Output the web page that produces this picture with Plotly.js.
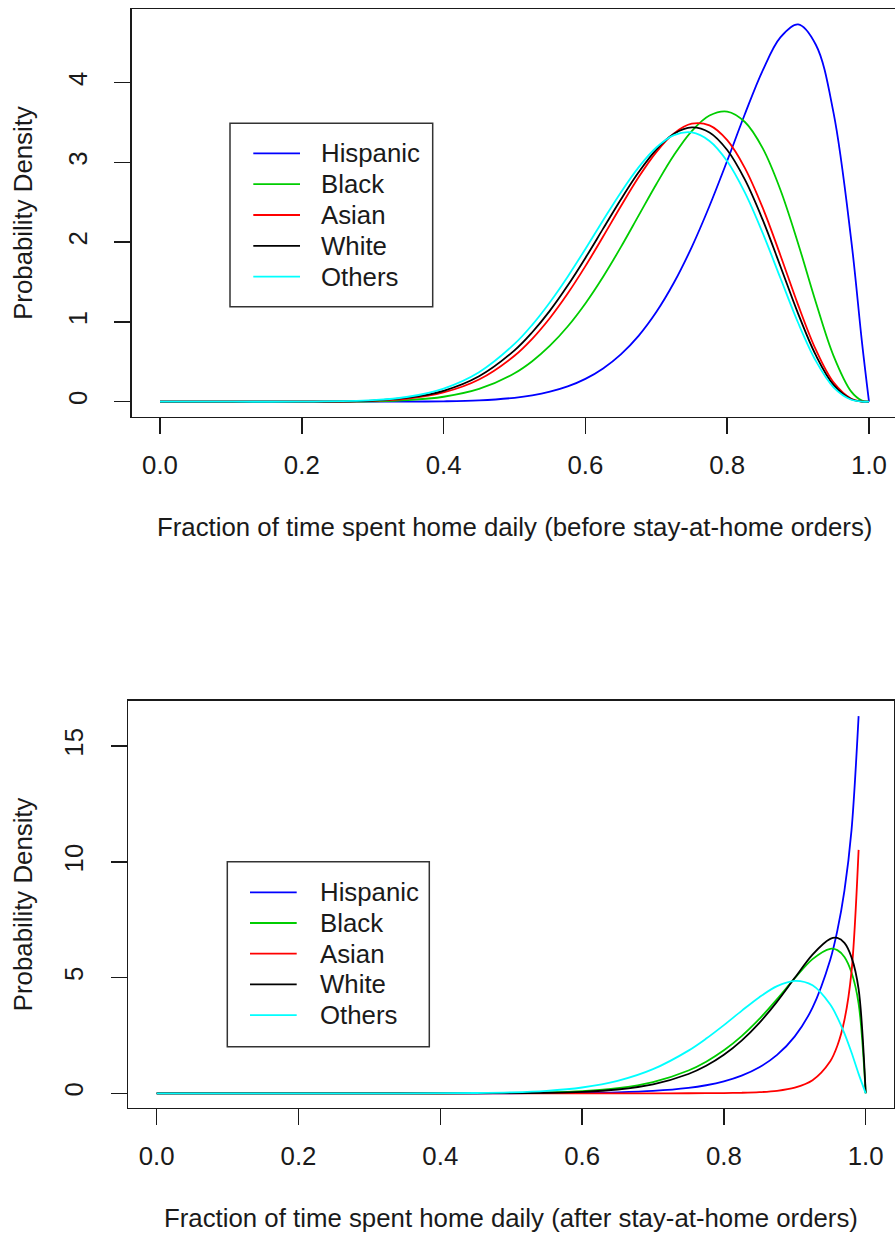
<!DOCTYPE html>
<html>
<head>
<meta charset="utf-8">
<script src="https://cdn.plot.ly/plotly-3.0.1.min.js"></script>
<style>html,body{margin:0;padding:0;background:#fff;}#chart{width:895px;height:1236px;}</style>
</head>
<body>
<div id="chart"></div>
<script>
// ---------- data ----------
const seriesNames = ["Hispanic", "Black", "Asian", "White", "Others"];
const seriesColors = ["#0000FF", "#00CD00", "#FF0000", "#000000", "#00FFFF"];

// before stay-at-home orders
const xBefore = [0, 0.1, 0.2, 0.3, 0.35, 0.4, 0.45, 0.5, 0.525, 0.55, 0.575, 0.6, 0.625, 0.65, 0.675, 0.7, 0.725, 0.75, 0.775, 0.8, 0.825, 0.85, 0.875, 0.9, 0.925, 0.95, 0.975, 0.99, 1.0];
const hispanicBefore = [0, 0, 0, 0.0002, 0.0012, 0.005, 0.017, 0.049, 0.079, 0.125, 0.191, 0.286, 0.417, 0.594, 0.826, 1.124, 1.494, 1.939, 2.454, 3.021, 3.607, 4.152, 4.569, 4.731, 4.476, 3.621, 2.021, 0.754, 0];
const blackBefore    = [0, 0, 0.0001, 0.0053, 0.020, 0.062, 0.160, 0.357, 0.508, 0.702, 0.943, 1.232, 1.567, 1.938, 2.333, 2.727, 3.093, 3.393, 3.588, 3.638, 3.507, 3.179, 2.658, 1.985, 1.247, 0.575, 0.126, 0.014, 0];
const asianBefore    = [0, 0, 0.0003, 0.0114, 0.040, 0.116, 0.278, 0.576, 0.789, 1.050, 1.356, 1.700, 2.071, 2.451, 2.814, 3.130, 3.365, 3.486, 3.464, 3.279, 2.929, 2.433, 1.837, 1.214, 0.652, 0.242, 0.037, 0.0025, 0];
const whiteBefore    = [0, 0, 0.0005, 0.0146, 0.050, 0.137, 0.319, 0.644, 0.871, 1.142, 1.456, 1.803, 2.170, 2.536, 2.877, 3.162, 3.359, 3.439, 3.376, 3.156, 2.784, 2.282, 1.699, 1.105, 0.583, 0.211, 0.031, 0.002, 0];
const othersBefore   = [0, 0, 0.0007, 0.0189, 0.062, 0.165, 0.370, 0.724, 0.964, 1.248, 1.568, 1.916, 2.275, 2.624, 2.938, 3.187, 3.342, 3.376, 3.270, 3.016, 2.622, 2.117, 1.551, 0.990, 0.512, 0.181, 0.025, 0.0016, 0];

// after stay-at-home orders
const xAfter = [0, 0.1, 0.2, 0.3, 0.4, 0.45, 0.5, 0.55, 0.6, 0.65, 0.7, 0.75, 0.775, 0.8, 0.825, 0.85, 0.875, 0.9, 0.925, 0.95, 0.96, 0.97, 0.98, 0.99, 1.0];
const hispanicAfter = [0, 0, 0, 0, 0.0002, 0.0006, 0.002, 0.006, 0.016, 0.042, 0.101, 0.232, 0.348, 0.516, 0.763, 1.125, 1.659, 2.460, 3.704, 5.772, 7.03, 8.761, 11.374, 16.3, null];
const blackAfter    = [0, 0, 0, 0.00003, 0.0009, 0.0036, 0.012, 0.035, 0.092, 0.219, 0.483, 0.984, 1.365, 1.856, 2.471, 3.213, 4.067, 4.973, 5.799, 6.245, 6.187, 5.889, 5.217, 3.88, 0];
const asianAfter    = [0, 0, 0, 0, 0, 0, 0, 0, 0, 0, 0.0003, 0.0018, 0.0042, 0.0096, 0.022, 0.049, 0.109, 0.246, 0.567, 1.386, 2.055, 3.168, 5.261, 10.52, null];
const whiteAfter    = [0, 0, 0, 0, 0.0005, 0.002, 0.0072, 0.0228, 0.064, 0.164, 0.385, 0.833, 1.189, 1.663, 2.276, 3.045, 3.964, 4.990, 5.995, 6.674, 6.712, 6.498, 5.873, 4.50, 0];
const othersAfter   = [0, 0, 0, 0.0002, 0.0038, 0.0134, 0.040, 0.106, 0.251, 0.536, 1.042, 1.844, 2.364, 2.947, 3.563, 4.155, 4.631, 4.861, 4.668, 3.839, 3.284, 2.590, 1.762, 0.838, 0];

const xTickVals = [0, 0.2, 0.4, 0.6, 0.8, 1.0];
const xTickText = ["0.0", "0.2", "0.4", "0.6", "0.8", "1.0"];
const yTickBefore = [0, 1, 2, 3, 4];
const yTickAfter = [0, 5, 10, 15];
const xTitleBefore = "Fraction of time spent home daily (before stay-at-home orders)";
const xTitleAfter = "Fraction of time spent home daily (after stay-at-home orders)";
const yTitle = "Probability Density";

// ---------- build ----------
const W = 895, H = 1236;
const FONT = "Liberation Sans, Arial, Helvetica, sans-serif";
const FS = 25.8;
const INK = "#1a1a1a";
const px = v => v / W;
const py = v => 1 - v / H;

const beforeSets = [hispanicBefore, blackBefore, asianBefore, whiteBefore, othersBefore];
const afterSets = [hispanicAfter, blackAfter, asianAfter, whiteAfter, othersAfter];

const traces = [];
beforeSets.forEach((ys, i) => traces.push({
  x: xBefore, y: ys, xaxis: "x", yaxis: "y", type: "scatter", mode: "lines",
  name: seriesNames[i], showlegend: false, hoverinfo: "skip",
  line: {color: seriesColors[i], width: 1.8, shape: "spline", smoothing: 1}
}));
afterSets.forEach((ys, i) => traces.push({
  x: xAfter, y: ys, xaxis: "x2", yaxis: "y2", type: "scatter", mode: "lines",
  name: seriesNames[i], showlegend: false, hoverinfo: "skip", connectgaps: false,
  line: {color: seriesColors[i], width: 1.8, shape: "spline", smoothing: 0.9}
}));

const axisCommon = {
  showgrid: false, zeroline: false, showline: true, linecolor: INK, linewidth: 1.5,
  ticks: "outside", ticklen: 16, tickwidth: 1.5, tickcolor: INK,
  tickfont: {family: FONT, size: FS, color: INK}, fixedrange: true
};

// pixel geometry of the two plot boxes
const boxA = {l: 131.6, t: 9, b: 416.7, x0: 160, ux: 709, y0: 401.7, uy: 79.75};
const boxB = {l: 128.3, r: 894.0, t: 700.7, b: 1107.7, x0: 156.7, ux: 709, y0: 1093.3, uy: 23.14};

const layout = {
  width: W, height: H, margin: {l: 0, r: 0, t: 0, b: 0},
  paper_bgcolor: "#fff", plot_bgcolor: "#fff", showlegend: false,
  font: {family: FONT, color: INK},
  xaxis: Object.assign({}, axisCommon, {
    anchor: "y", domain: [px(boxA.l), 1],
    range: [(boxA.l - boxA.x0) / boxA.ux, (W - boxA.x0) / boxA.ux],
    tickvals: xTickVals, ticktext: xTickText, mirror: true, ticklabelstandoff: 9
  }),
  yaxis: Object.assign({}, axisCommon, {
    anchor: "x", domain: [py(boxA.b), py(boxA.t)],
    range: [(boxA.y0 - boxA.b) / boxA.uy, (boxA.y0 - boxA.t) / boxA.uy],
    tickvals: yTickBefore, ticktext: yTickBefore.map(String), tickangle: -90, ticklabelstandoff: 17
  }),
  xaxis2: Object.assign({}, axisCommon, {
    anchor: "y2", domain: [px(boxB.l), px(boxB.r)],
    range: [(boxB.l - boxB.x0) / boxB.ux, (boxB.r - boxB.x0) / boxB.ux],
    tickvals: xTickVals, ticktext: xTickText, mirror: true, ticklabelstandoff: 9
  }),
  yaxis2: Object.assign({}, axisCommon, {
    anchor: "x2", domain: [py(boxB.b), py(boxB.t)],
    range: [(boxB.y0 - boxB.b) / boxB.uy, (boxB.y0 - boxB.t) / boxB.uy],
    tickvals: yTickAfter, ticktext: yTickAfter.map(String), tickangle: -90, mirror: true, ticklabelstandoff: 17
  }),
  shapes: [], annotations: []
};

// axis titles
layout.annotations.push(
  {text: xTitleBefore, xref: "paper", yref: "paper", x: px((boxA.l + 897.3) / 2), y: py(527), xanchor: "center", yanchor: "middle", showarrow: false, font: {family: FONT, size: FS, color: INK}},
  {text: xTitleAfter, xref: "paper", yref: "paper", x: px((boxB.l + boxB.r) / 2), y: py(1218), xanchor: "center", yanchor: "middle", showarrow: false, font: {family: FONT, size: FS, color: INK}},
  {text: yTitle, xref: "paper", yref: "paper", x: px(23), y: py((boxA.t + boxA.b) / 2), xanchor: "center", yanchor: "middle", textangle: -90, showarrow: false, font: {family: FONT, size: FS, color: INK}},
  {text: yTitle, xref: "paper", yref: "paper", x: px(23), y: py((boxB.t + boxB.b) / 2), xanchor: "center", yanchor: "middle", textangle: -90, showarrow: false, font: {family: FONT, size: FS, color: INK}}
);

// legends (R style boxes)
function addLegend(box, lineX0, lineX1, textX, rowY0, rowStep) {
  layout.shapes.push({type: "rect", xref: "paper", yref: "paper",
    x0: px(box[0]), x1: px(box[2]), y0: py(box[1]), y1: py(box[3]),
    line: {color: "#333", width: 1.5}, fillcolor: "rgba(255,255,255,0)"});
  seriesNames.forEach((nm, i) => {
    const yy = rowY0 + i * rowStep;
    layout.shapes.push({type: "line", xref: "paper", yref: "paper",
      x0: px(lineX0), x1: px(lineX1), y0: py(yy), y1: py(yy),
      line: {color: seriesColors[i], width: 1.8}});
    layout.annotations.push({text: nm, xref: "paper", yref: "paper", x: px(textX), y: py(yy),
      xanchor: "left", yanchor: "middle", showarrow: false, font: {family: FONT, size: FS, color: INK}});
  });
}
addLegend([230, 123.3, 432.7, 306.7], 253.3, 300, 319, 153.3, 30.85);
addLegend([227.3, 861.7, 429.3, 1046.7], 250, 296.7, 318, 892.3, 30.7);

Plotly.newPlot("chart", traces, layout, {staticPlot: true, displayModeBar: false});
</script>
</body>
</html>
